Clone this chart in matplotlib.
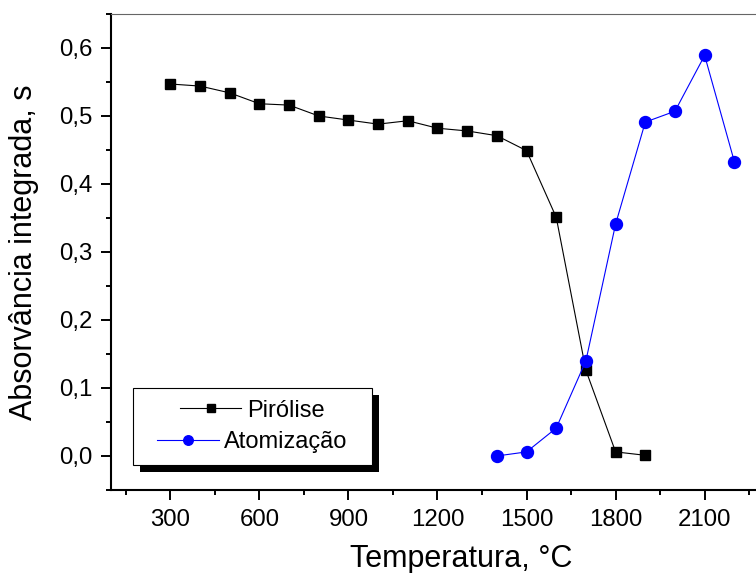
import matplotlib
matplotlib.use("Agg")
import matplotlib.pyplot as plt
from matplotlib.patches import Rectangle
from matplotlib.ticker import MultipleLocator, FuncFormatter

plt.rcParams['font.family'] = ['Liberation Sans', 'DejaVu Sans']

# Pirólise
temp_pir = [300, 400, 500, 600, 700, 800, 900, 1000, 1100, 1200,
            1300, 1400, 1500, 1600, 1700, 1800, 1900]
abs_pir = [0.547, 0.544, 0.534, 0.518, 0.516, 0.500, 0.494, 0.488, 0.493,
           0.482, 0.478, 0.471, 0.449, 0.351, 0.126, 0.006, 0.001]

# Atomização
temp_atom = [1400, 1500, 1600, 1700, 1800, 1900, 2000, 2100, 2200]
abs_atom = [0.000, 0.006, 0.041, 0.140, 0.341, 0.491, 0.507, 0.589, 0.433]

fig = plt.figure(figsize=(7.56, 5.73), dpi=100)
ax = fig.add_axes([0.1468, 0.1449, 0.8638, 0.8307])

ax.plot(temp_pir, abs_pir, color='black', lw=0.8, marker='s', ms=7.6,
        label='Pirólise')
ax.plot(temp_atom, abs_atom, color='blue', lw=0.8, marker='o', ms=8.6,
        label='Atomização')

ax.set_xlim(100, 2300)
ax.set_ylim(-0.05, 0.65)

ax.xaxis.set_major_locator(MultipleLocator(300))
ax.xaxis.set_minor_locator(MultipleLocator(150))
ax.yaxis.set_major_locator(MultipleLocator(0.1))
ax.yaxis.set_minor_locator(MultipleLocator(0.05))
ax.yaxis.set_major_formatter(FuncFormatter(lambda v, p: f"{v:.1f}".replace('.', ',')))

ax.tick_params(which='major', direction='out', length=7, width=1.4, labelsize=17.3)
ax.tick_params(axis='x', which='major', pad=7)
ax.tick_params(axis='y', which='major', pad=6.5)
ax.tick_params(which='minor', direction='out', length=3.6, width=1.4)

ax.spines['left'].set_linewidth(1.5)
ax.spines['bottom'].set_linewidth(1.5)
ax.spines['top'].set_linewidth(0.8)
ax.spines['top'].set_color('#666666')
ax.spines['right'].set_visible(False)

ax.set_xlabel('Temperatura, °C', fontsize=22)
ax.set_ylabel('Absorvância integrada, s', fontsize=22)
ax.xaxis.set_label_coords(0.536, -0.114)
ax.yaxis.set_label_coords(-0.11, 0.5)

# legend box + Origin style drop shadow (axes fraction)
bx0, by0, bw, bh = 0.0337, 0.0525, 0.366, 0.1618
ax.add_patch(Rectangle((bx0 + 0.0107, by0 - 0.0147), bw, bh, transform=ax.transAxes,
                       facecolor='black', edgecolor='none', zorder=4.8, clip_on=False))
ax.add_patch(Rectangle((bx0, by0), bw, bh, transform=ax.transAxes,
                       facecolor='white', edgecolor='black', lw=0.8, zorder=4.9,
                       clip_on=False))

leg = ax.legend(loc='center', bbox_to_anchor=(bx0 + bw / 2, by0 + bh / 2),
                fontsize=17, frameon=False, handlelength=2.6,
                handletextpad=0.25, labelspacing=0.4, borderpad=0,
                markerscale=0.8)
leg.set_zorder(6)
# center each entry like the original
for col in leg._legend_handle_box.get_children():
    col.align = 'center'

fig.savefig('out.png', dpi=100)
